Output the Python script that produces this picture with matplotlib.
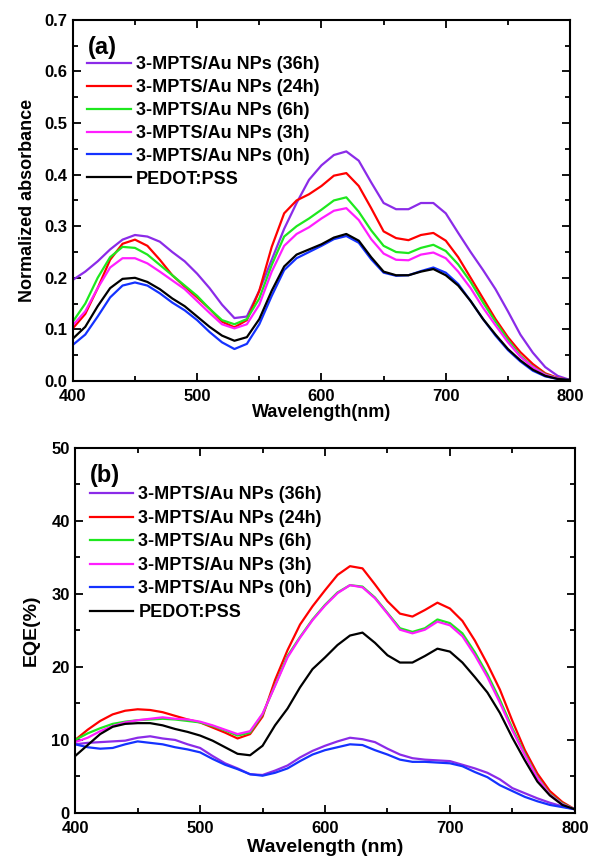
import matplotlib
matplotlib.use('Agg')
import matplotlib.pyplot as plt
from matplotlib.ticker import MultipleLocator

plt.rcParams['font.family'] = ['Liberation Sans', 'DejaVu Sans']
plt.rcParams['font.weight'] = 'bold'

# wavelength grid (nm)
wl = list(range(400, 801, 10))

labels = ['3-MPTS/Au NPs (36h)', '3-MPTS/Au NPs (24h)', '3-MPTS/Au NPs (6h)',
          '3-MPTS/Au NPs (3h)', '3-MPTS/Au NPs (0h)', 'PEDOT:PSS']
colors = ['#8B2BE8', '#FF0000', '#1EE81E', '#FF1EFF', '#1432FF', '#000000']

# (a) normalized absorbance
abs_36h = [0.196, 0.212, 0.232, 0.255, 0.274, 0.283, 0.280, 0.270, 0.250, 0.232,
           0.208, 0.180, 0.148, 0.122, 0.125, 0.175, 0.235, 0.295, 0.345, 0.390,
           0.418, 0.438, 0.445, 0.427, 0.385, 0.345, 0.333, 0.333, 0.345, 0.345,
           0.325, 0.287, 0.250, 0.215, 0.178, 0.135, 0.090, 0.055, 0.027, 0.010, 0.002]
abs_24h = [0.102, 0.130, 0.180, 0.235, 0.266, 0.274, 0.262, 0.235, 0.205, 0.183,
           0.162, 0.140, 0.115, 0.104, 0.118, 0.175, 0.260, 0.325, 0.350, 0.362,
           0.378, 0.398, 0.403, 0.378, 0.335, 0.290, 0.277, 0.273, 0.283, 0.287,
           0.272, 0.240, 0.200, 0.160, 0.120, 0.085, 0.056, 0.033, 0.015, 0.006, 0.002]
abs_6h = [0.115, 0.150, 0.200, 0.240, 0.260, 0.258, 0.245, 0.225, 0.205, 0.185,
          0.165, 0.140, 0.118, 0.110, 0.120, 0.160, 0.225, 0.280, 0.300, 0.315,
          0.332, 0.350, 0.356, 0.328, 0.292, 0.262, 0.250, 0.248, 0.258, 0.264,
          0.252, 0.226, 0.192, 0.152, 0.115, 0.080, 0.049, 0.028, 0.013, 0.005, 0.002]
abs_3h = [0.108, 0.135, 0.180, 0.220, 0.238, 0.238, 0.228, 0.212, 0.195, 0.178,
          0.155, 0.132, 0.110, 0.102, 0.110, 0.148, 0.212, 0.262, 0.285, 0.298,
          0.315, 0.330, 0.335, 0.312, 0.275, 0.247, 0.235, 0.234, 0.245, 0.249,
          0.238, 0.212, 0.180, 0.142, 0.108, 0.075, 0.047, 0.027, 0.012, 0.005, 0.002]
abs_0h = [0.070, 0.090, 0.125, 0.162, 0.185, 0.191, 0.185, 0.170, 0.152, 0.137,
          0.118, 0.095, 0.075, 0.062, 0.072, 0.110, 0.165, 0.215, 0.238, 0.250,
          0.262, 0.275, 0.281, 0.268, 0.236, 0.210, 0.204, 0.205, 0.213, 0.220,
          0.210, 0.188, 0.155, 0.120, 0.088, 0.060, 0.038, 0.020, 0.009, 0.004, 0.002]
abs_pedot = [0.082, 0.105, 0.145, 0.180, 0.198, 0.200, 0.192, 0.178, 0.160, 0.145,
             0.125, 0.105, 0.088, 0.078, 0.085, 0.120, 0.175, 0.222, 0.245, 0.255,
             0.265, 0.278, 0.285, 0.272, 0.240, 0.212, 0.205, 0.205, 0.212, 0.217,
             0.205, 0.185, 0.155, 0.120, 0.090, 0.062, 0.040, 0.022, 0.010, 0.004, 0.002]

# (b) EQE (%)
eqe_36h = [9.4, 9.6, 9.7, 9.8, 9.9, 10.3, 10.5, 10.2, 10.0, 9.4,
           8.9, 7.8, 6.8, 6.1, 5.3, 5.2, 5.8, 6.5, 7.6, 8.5,
           9.2, 9.8, 10.3, 10.1, 9.7, 8.8, 8.0, 7.5, 7.3, 7.2,
           7.1, 6.6, 6.1, 5.5, 4.6, 3.4, 2.7, 2.0, 1.4, 0.9, 0.5]
eqe_24h = [10.0, 11.4, 12.6, 13.5, 14.0, 14.2, 14.1, 13.8, 13.3, 12.8,
           12.4, 11.7, 11.0, 10.2, 10.8, 13.2, 18.2, 22.3, 25.8, 28.3,
           30.5, 32.6, 33.8, 33.5, 31.3, 29.0, 27.3, 26.9, 27.8, 28.8,
           28.0, 26.3, 23.6, 20.4, 16.9, 12.6, 8.6, 5.4, 3.0, 1.5, 0.5]
eqe_6h = [10.0, 10.9, 11.6, 12.2, 12.5, 12.7, 12.8, 12.9, 12.8, 12.6,
          12.4, 11.9, 11.3, 10.6, 11.0, 13.5, 17.5, 21.5, 24.1, 26.5,
          28.5, 30.2, 31.2, 31.0, 29.5, 27.4, 25.3, 24.8, 25.3, 26.5,
          26.0, 24.6, 22.0, 19.0, 15.5, 11.6, 8.1, 4.9, 2.6, 1.3, 0.5]
eqe_3h = [9.7, 10.3, 11.2, 11.9, 12.4, 12.7, 12.9, 13.1, 12.9, 12.8,
          12.5, 12.0, 11.4, 10.8, 11.2, 13.6, 17.4, 21.3, 24.0, 26.4,
          28.4, 30.1, 31.2, 30.9, 29.4, 27.3, 25.1, 24.6, 25.1, 26.2,
          25.7, 24.2, 21.6, 18.6, 15.1, 11.3, 7.9, 4.8, 2.5, 1.2, 0.5]
eqe_0h = [9.4, 9.0, 8.8, 8.9, 9.4, 9.8, 9.6, 9.4, 9.0, 8.7,
          8.3, 7.4, 6.6, 6.0, 5.3, 5.1, 5.5, 6.1, 7.1, 8.0,
          8.6, 9.0, 9.4, 9.3, 8.6, 8.0, 7.3, 7.0, 7.0, 6.9,
          6.8, 6.4, 5.6, 4.9, 3.8, 3.0, 2.2, 1.6, 1.1, 0.8, 0.5]
eqe_pedot = [7.8, 9.3, 10.8, 11.8, 12.2, 12.3, 12.3, 12.0, 11.5, 11.1,
             10.6, 9.9, 9.0, 8.1, 7.9, 9.2, 12.0, 14.3, 17.2, 19.7,
             21.3, 23.0, 24.3, 24.7, 23.3, 21.6, 20.6, 20.6, 21.5, 22.5,
             22.1, 20.6, 18.6, 16.5, 13.7, 10.3, 7.2, 4.3, 2.4, 1.1, 0.5]

abs_data = [abs_36h, abs_24h, abs_6h, abs_3h, abs_0h, abs_pedot]
eqe_data = [eqe_36h, eqe_24h, eqe_6h, eqe_3h, eqe_0h, eqe_pedot]

fig = plt.figure(figsize=(5.92, 8.63), dpi=100)
ax1 = fig.add_axes([0.123, 0.5585, 0.840, 0.4185])
ax2 = fig.add_axes([0.127, 0.058, 0.844, 0.423])


def style(ax):
    for s in ax.spines.values():
        s.set_linewidth(1.5)
    ax.tick_params(which='both', direction='in', top=True, right=True, width=1.3,
                   labelsize=12)
    ax.tick_params(which='major', length=6)
    ax.tick_params(which='minor', length=3.5)
    ax.tick_params(axis='x', pad=6)
    ax.tick_params(axis='y', pad=4)
    ax.set_xlim(400, 800)
    ax.xaxis.set_major_locator(MultipleLocator(100))
    ax.xaxis.set_minor_locator(MultipleLocator(50))
    for t in ax.get_xticklabels() + ax.get_yticklabels():
        t.set_fontweight('bold')


leg_kw = dict(loc='upper left', frameon=False, handlelength=2.4,
              handletextpad=0.3, borderaxespad=0.4)

# (a)
for y, c, lab in zip(abs_data, colors, labels):
    ax1.plot(wl, y, color=c, lw=1.6, label=lab)
ax1.set_ylim(0, 0.7)
ax1.yaxis.set_major_locator(MultipleLocator(0.1))
ax1.yaxis.set_minor_locator(MultipleLocator(0.05))
style(ax1)
ax1.set_xlabel('Wavelength(nm)', fontsize=13, fontweight='bold', labelpad=0)
ax1.set_ylabel('Normalized absorbance', fontsize=13, fontweight='bold', labelpad=6)
ax1.text(0.03, 0.955, '(a)', transform=ax1.transAxes, fontsize=17,
         fontweight='bold', va='top', ha='left')
ax1.legend(bbox_to_anchor=(0.0, 0.94), labelspacing=0.33,
           prop={'weight': 'bold', 'size': 13}, **leg_kw)

# (b)
for y, c, lab in zip(eqe_data, colors, labels):
    ax2.plot(wl, y, color=c, lw=1.6, label=lab)
ax2.set_ylim(0, 50)
ax2.yaxis.set_major_locator(MultipleLocator(10))
ax2.yaxis.set_minor_locator(MultipleLocator(5))
style(ax2)
ax2.set_xlabel('Wavelength (nm)', fontsize=14, fontweight='bold', labelpad=2)
ax2.set_ylabel('EQE(%)', fontsize=14, fontweight='bold', labelpad=8)
ax2.text(0.03, 0.955, '(b)', transform=ax2.transAxes, fontsize=17,
         fontweight='bold', va='top', ha='left')
ax2.legend(bbox_to_anchor=(0.0, 0.934), labelspacing=0.36,
           prop={'weight': 'bold', 'size': 13}, **leg_kw)

fig.savefig('out.png', dpi=100)
